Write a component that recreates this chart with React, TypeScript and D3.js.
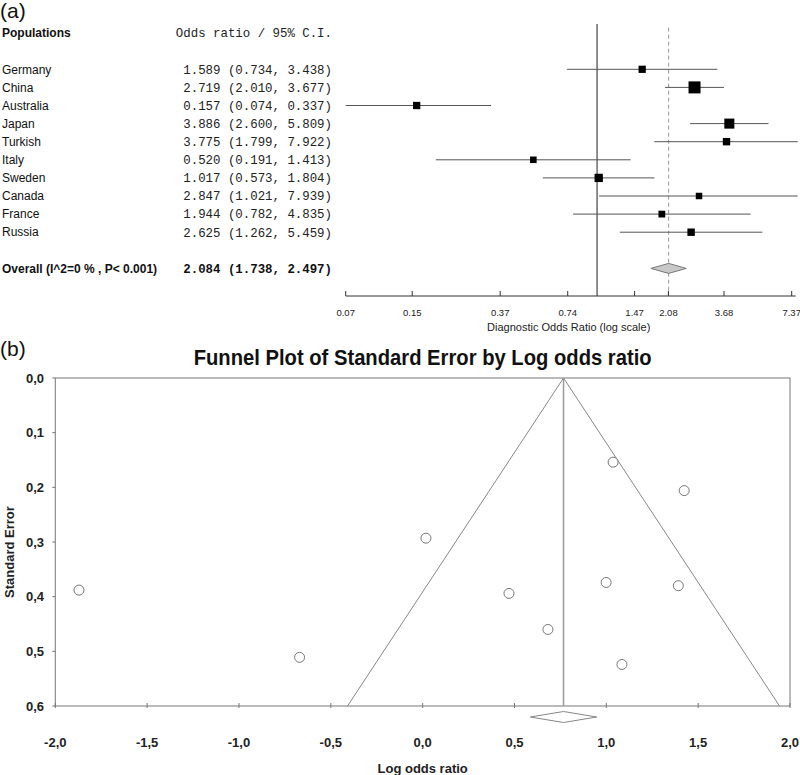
import React from "react";
import * as d3 from "d3";

// ---------- Data: forest plot (a) ----------
const populations = ["Germany", "China", "Australia", "Japan", "Turkish", "Italy", "Sweden", "Canada", "France", "Russia"];
const oddsRatio = [1.589, 2.719, 0.157, 3.886, 3.775, 0.52, 1.017, 2.847, 1.944, 2.625];
const ciLower = [0.734, 2.01, 0.074, 2.6, 1.799, 0.191, 0.573, 1.021, 0.782, 1.262];
const ciUpper = [3.438, 3.677, 0.337, 5.809, 7.922, 1.413, 1.804, 7.939, 4.835, 5.459];
const overallLabel = "Overall (I^2=0 % , P< 0.001)";
const overallOR = 2.084;
const overallLower = 1.738;
const overallUpper = 2.497;
const forestTickValues = [0.0758, 0.15, 0.37, 0.74, 1.47, 2.08, 3.68, 7.37];
const forestTickLabels = ["0.07", "0.15", "0.37", "0.74", "1.47", "2.08", "3.68", "7.37"];

// ---------- Data: funnel plot (b) ----------
const funnelLogOR = [0.47, 1.037, -1.871, 1.424, 1.392, -0.67, 0.018, 1.085, 0.682, 0.999];
const funnelSE = [0.394, 0.154, 0.388, 0.206, 0.38, 0.511, 0.293, 0.524, 0.46, 0.374];
const funnelCenter = 0.767;
const funnelCenterLower = 0.586;
const funnelCenterUpper = 0.948;
const funnelXTicks = [-2, -1.5, -1, -0.5, 0, 0.5, 1, 1.5, 2];
const funnelYTicks = [0, 0.1, 0.2, 0.3, 0.4, 0.5, 0.6];

const sans = "'Liberation Sans', Arial, sans-serif";
const narrow = "'Liberation Sans Narrow', 'Liberation Sans', Arial, sans-serif";
const mono = "'Liberation Mono', 'Courier New', monospace";

const fmt = (v: number) => v.toFixed(3);
const commaFmt = (v: number) => v.toFixed(1).replace(".", ",");

export default function App() {
  // forest scales
  const fx = d3.scaleLog().domain([0.0758, 7.37]).range([345.7, 791.7]).clamp(true);
  const fy = d3.scaleLinear().domain([0, 9]).range([69.3, 232.2]);
  const overallY = fy(11);
  const axisY = 296;

  const se = ciLower.map((lo, i) => (Math.log(ciUpper[i]) - Math.log(lo)) / 3.92);
  const weights = se.map((s) => 1 / (s * s));
  const boxSize = d3
    .scalePow()
    .exponent(0.5)
    .domain([d3.min(weights) as number, d3.max(weights) as number])
    .range([6.5, 12]);

  // funnel scales
  const gx = d3.scaleLinear().domain([-2, 2]).range([55.3, 790]);
  const gy = d3.scaleLinear().domain([0, 0.6]).range([378, 706]);
  const seMax = 0.6;

  const dx = overallY;
  const dOV = 5;

  return (
    <svg width={800} height={775} style={{ position: "absolute", left: 0, top: 0, background: "#fff" }}>
      {/* ---------------- (a) ---------------- */}
      <text x={0} y={18} fontFamily={sans} fontSize={21} fill="#111">(a)</text>
      <text x={2} y={fy(-2)} dy="0.35em" fontFamily={sans} fontSize={12} fontWeight="bold" fill="#111">Populations</text>
      <text x={332} y={fy(-2)} dy="0.35em" fontFamily={mono} fontSize={12.4} textAnchor="end" fill="#222">Odds ratio / 95% C.I.</text>

      {/* reference lines */}
      <line x1={fx(1)} x2={fx(1)} y1={fy(-2.5)} y2={axisY} stroke="#444" strokeWidth={1.2} />
      <line x1={fx(overallOR)} x2={fx(overallOR)} y1={fy(-2.3)} y2={axisY} stroke="#999" strokeWidth={1} strokeDasharray="4,3" />

      {populations.map((p, i) => {
        const y = fy(i);
        const s = boxSize(weights[i]);
        return (
          <g key={p}>
            <text x={2} y={y} dy="0.35em" fontFamily={sans} fontSize={12} fill="#111">{p}</text>
            <text x={332} y={y} dy="0.35em" fontFamily={mono} fontSize={12.4} textAnchor="end" fill="#222">
              {`${fmt(oddsRatio[i])} (${fmt(ciLower[i])}, ${fmt(ciUpper[i])})`}
            </text>
            <line x1={fx(ciLower[i])} x2={fx(ciUpper[i]) + (ciUpper[i] > 7.37 ? 6 : 0)} y1={y} y2={y} stroke="#555" strokeWidth={1} />
            <rect x={fx(oddsRatio[i]) - s / 2} y={y - s / 2} width={s} height={s} fill="#000" />
          </g>
        );
      })}

      <text x={2} y={overallY} dy="0.35em" fontFamily={sans} fontSize={12} fontWeight="bold" fill="#111">{overallLabel}</text>
      <text x={332} y={overallY} dy="0.35em" fontFamily={mono} fontSize={12.4} fontWeight="bold" textAnchor="end" fill="#111">
        {`${fmt(overallOR)} (${fmt(overallLower)}, ${fmt(overallUpper)})`}
      </text>
      <polygon
        points={[
          [fx(overallLower), dx],
          [fx(overallOR), dx - dOV],
          [fx(overallUpper), dx],
          [fx(overallOR), dx + dOV],
        ]
          .map((p) => p.join(","))
          .join(" ")}
        fill="#c8c8c8"
        stroke="#777"
        strokeWidth={1}
      />

      {/* forest axis */}
      <line x1={fx(forestTickValues[0])} x2={fx(forestTickValues[forestTickValues.length - 1]) + 4} y1={axisY} y2={axisY} stroke="#333" strokeWidth={1} />
      {forestTickValues.map((t, i) => (
        <g key={"ft" + i}>
          <line x1={fx(t)} x2={fx(t)} y1={axisY} y2={axisY - 5} stroke="#333" strokeWidth={1} />
          <text x={fx(t)} y={313} dy="0.35em" textAnchor="middle" fontFamily={sans} fontSize={9.5} fill="#222">{forestTickLabels[i]}</text>
        </g>
      ))}
      <text x={(fx(forestTickValues[0]) + fx(7.37)) / 2} y={327} dy="0.35em" textAnchor="middle" fontFamily={sans} fontSize={11} fill="#222">
        Diagnostic Odds Ratio (log scale)
      </text>

      {/* ---------------- (b) ---------------- */}
      <text x={0} y={356} fontFamily={sans} fontSize={21} fill="#111">(b)</text>
      <text x={(gx(-2) + gx(2)) / 2} y={365} textAnchor="middle" fontFamily={narrow} fontSize={22} fontWeight="bold" fill="#111" textLength={458} lengthAdjust="spacingAndGlyphs">
        Funnel Plot of Standard Error by Log odds ratio
      </text>

      {/* frame */}
      <rect x={gx(-2)} y={gy(0)} width={gx(2) - gx(-2)} height={gy(0.6) - gy(0)} fill="none" stroke="#777" strokeWidth={1} />

      {/* funnel */}
      <polyline
        points={[
          [gx(funnelCenter - 1.96 * seMax), gy(seMax)],
          [gx(funnelCenter), gy(0)],
          [gx(funnelCenter + 1.96 * seMax), gy(seMax)],
        ]
          .map((p) => p.join(","))
          .join(" ")}
        fill="none"
        stroke="#888"
        strokeWidth={1}
      />
      <line x1={gx(funnelCenter)} x2={gx(funnelCenter)} y1={gy(0)} y2={gy(seMax)} stroke="#999" strokeWidth={1.5} />

      {/* axes ticks */}
      {funnelYTicks.map((t) => (
        <g key={"fy" + t}>
          <line x1={gx(-2) - 3} x2={gx(-2)} y1={gy(t)} y2={gy(t)} stroke="#777" />
          <text x={44} y={gy(t)} dy="0.35em" textAnchor="end" fontFamily={narrow} fontSize={13} fontWeight="bold" fill="#222">{commaFmt(t)}</text>
        </g>
      ))}
      {funnelXTicks.map((t) => (
        <g key={"fx" + t}>
          <line x1={gx(t)} x2={gx(t)} y1={gy(0.6) - 3} y2={gy(0.6) + 2} stroke="#777" />
          <text x={gx(t)} y={742} dy="0.35em" textAnchor="middle" fontFamily={narrow} fontSize={13} fontWeight="bold" fill="#222">{commaFmt(t)}</text>
        </g>
      ))}
      <text x={(gx(-2) + gx(2)) / 2} y={768} dy="0.35em" textAnchor="middle" fontFamily={narrow} fontSize={13} fontWeight="bold" fill="#222">Log odds ratio</text>
      <text transform={`translate(9,${(gy(0) + gy(0.6)) / 2 + 10}) rotate(-90)`} dy="0.35em" textAnchor="middle" fontFamily={narrow} fontSize={13} fontWeight="bold" fill="#222">Standard Error</text>

      {/* points */}
      {funnelLogOR.map((v, i) => (
        <circle key={"pt" + i} cx={gx(v)} cy={gy(funnelSE[i])} r={5} fill="#fff" stroke="#777" strokeWidth={1} />
      ))}

      {/* overall diamond */}
      <polygon
        points={[
          [gx(funnelCenterLower), 717],
          [gx(funnelCenter), 711.5],
          [gx(funnelCenterUpper), 717],
          [gx(funnelCenter), 722.5],
        ]
          .map((p) => p.join(","))
          .join(" ")}
        fill="#fff"
        stroke="#888"
        strokeWidth={1}
      />
    </svg>
  );
}
